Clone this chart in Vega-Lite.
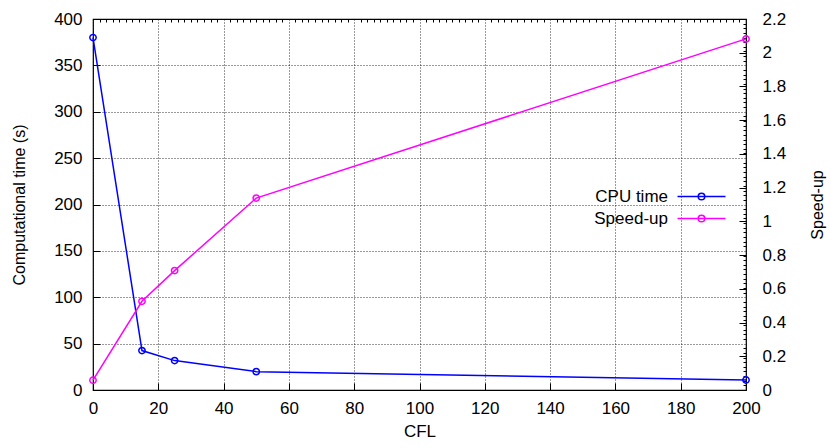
{
  "$schema": "https://vega.github.io/schema/vega-lite/v6.json",
  "autosize": {"type": "none"},
  "padding": {"left": 93, "top": 19, "right": 85, "bottom": 58},
  "width": 653,
  "height": 371,
  "background": "white",
  "config": {
    "font": "Liberation Sans",
    "view": {"stroke": "black", "strokeWidth": 1.2},
    "axis": {
      "labelFont": "Liberation Sans",
      "titleFont": "Liberation Sans",
      "labelFontSize": 17,
      "titleFontSize": 16,
      "titleFontWeight": "normal",
      "labelColor": "black",
      "titleColor": "black",
      "domain": false,
      "tickColor": "black",
      "tickSize": -7,
      "tickWidth": 1,
      "labelFlush": false,
      "labelOverlap": false,
      "gridColor": "black",
      "gridDash": [1, 2],
      "gridWidth": 0.8,
      "gridOpacity": 1
    }
  },
  "data": {
    "values": [
      {"cfl": 0, "series": "CPU time", "cpu": 380, "speedup": null},
      {"cfl": 15, "series": "CPU time", "cpu": 42.5, "speedup": null},
      {"cfl": 25, "series": "CPU time", "cpu": 31.7, "speedup": null},
      {"cfl": 50, "series": "CPU time", "cpu": 19.8, "speedup": null},
      {"cfl": 200, "series": "CPU time", "cpu": 10.8, "speedup": null},
      {"cfl": 0, "series": "Speed-up", "cpu": null, "speedup": 0.058},
      {"cfl": 15, "series": "Speed-up", "cpu": null, "speedup": 0.526},
      {"cfl": 25, "series": "Speed-up", "cpu": null, "speedup": 0.708},
      {"cfl": 50, "series": "Speed-up", "cpu": null, "speedup": 1.138},
      {"cfl": 200, "series": "Speed-up", "cpu": null, "speedup": 2.082}
    ]
  },
  "encoding": {
    "color": {
      "field": "series",
      "type": "nominal",
      "scale": {"domain": ["CPU time", "Speed-up"], "range": ["#0000ff", "#ff00ff"]},
      "legend": {
        "title": null,
        "orient": "none",
        "legendX": 600,
        "legendY": 169,
        "padding": 0,
        "rowPadding": 4,
        "labelFont": "Liberation Sans",
        "labelFontSize": 17,
        "labelColor": "black",
        "labelAlign": "right",
        "labelOffset": -42,
        "symbolType": "M-6,0H6M0.825,0A0.825,0.825,0,1,1,-0.825,0A0.825,0.825,0,1,1,0.825,0",
        "symbolSize": 64,
        "symbolStrokeWidth": 1.5,
        "symbolFillColor": "transparent"
      }
    }
  },
  "layer": [
    {
      "transform": [{"filter": "datum.series === 'CPU time'"}],
      "layer": [
        {
          "mark": {"type": "line", "strokeWidth": 1.5},
          "encoding": {
            "x": {
              "field": "cfl",
              "type": "quantitative",
              "scale": {"domain": [0, 200], "nice": false, "zero": false},
              "axis": {"title": "CFL", "values": [0,20,40,60,80,100,120,140,160,180,200], "labelPadding": 17, "titlePadding": 7, "titleFontSize": 17, "grid": true}
            },
            "y": {
              "field": "cpu",
              "type": "quantitative",
              "scale": {"domain": [0, 400], "nice": false},
              "axis": {"title": "Computational time (s)", "values": [0,50,100,150,200,250,300,350,400], "grid": true, "labelPadding": 18, "titlePadding": 26, "titleFontSize": 16}
            }
          }
        },
        {
          "mark": {"type": "point", "shape": "circle", "filled": false, "size": 40, "strokeWidth": 1.5, "opacity": 1},
          "encoding": {
            "x": {"field": "cfl", "type": "quantitative", "axis": null},
            "y": {"field": "cpu", "type": "quantitative", "axis": null}
          }
        },
        {
          "mark": {"type": "point", "opacity": 0},
          "encoding": {
            "x": {"field": "cfl", "type": "quantitative", "axis": {"title": null, "labels": false, "grid": false, "tickSize": -3, "values": [2,4,6,8,10,12,14,16,18,22,24,26,28,30,32,34,36,38,42,44,46,48,50,52,54,56,58,62,64,66,68,70,72,74,76,78,82,84,86,88,90,92,94,96,98,102,104,106,108,110,112,114,116,118,122,124,126,128,130,132,134,136,138,142,144,146,148,150,152,154,156,158,162,164,166,168,170,172,174,176,178,182,184,186,188,190,192,194,196,198]}},
            "y": {"field": "cpu", "type": "quantitative", "axis": {"title": null, "labels": false, "grid": false, "tickSize": -3, "values": [5,10,15,20,25,30,35,40,45,55,60,65,70,75,80,85,90,95,105,110,115,120,125,130,135,140,145,155,160,165,170,175,180,185,190,195,205,210,215,220,225,230,235,240,245,255,260,265,270,275,280,285,290,295,305,310,315,320,325,330,335,340,345,355,360,365,370,375,380,385,390,395]}}
          }
        }
      ],
      "resolve": {"axis": {"x": "independent", "y": "independent"}}
    },
    {
      "transform": [{"filter": "datum.series === 'Speed-up'"}],
      "encoding": {
        "x": {"field": "cfl", "type": "quantitative", "axis": null},
        "y": {
          "field": "speedup",
          "type": "quantitative",
          "scale": {"domain": [0, 2.2], "nice": false},
          "axis": {"title": "Speed-up", "orient": "right", "values": [0,0.2,0.4,0.6,0.8,1,1.2,1.4,1.6,1.8,2,2.2], "format": "~g", "grid": false, "labelPadding": 23, "titlePadding": 24, "titleFontSize": 16, "titleAngle": 270, "titleBaseline": "top"}
        }
      },
      "layer": [
        {"mark": {"type": "line", "strokeWidth": 1.5}},
        {"mark": {"type": "point", "shape": "circle", "filled": false, "size": 40, "strokeWidth": 1.5, "opacity": 1}}
      ]
    }
  ],
  "resolve": {"scale": {"y": "independent"}, "axis": {"x": "independent"}}
}
